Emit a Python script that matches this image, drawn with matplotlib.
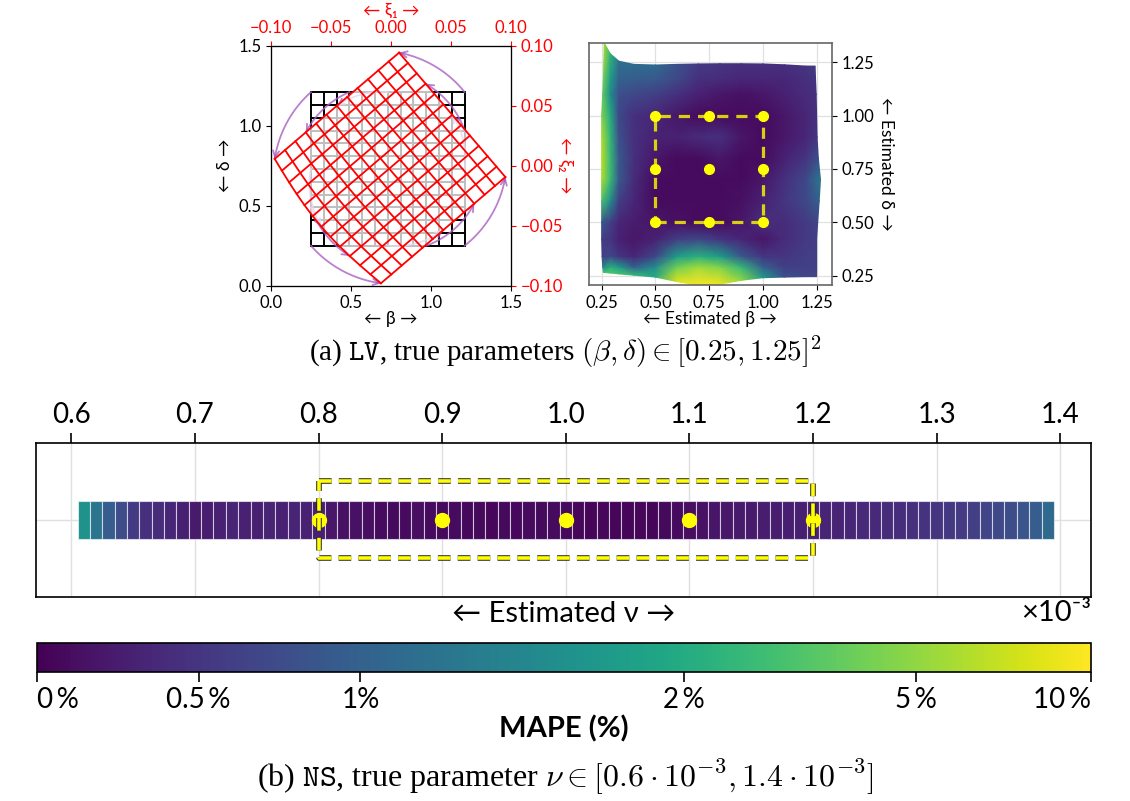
import matplotlib
matplotlib.use("Agg")
import matplotlib.pyplot as plt
import matplotlib.patheffects as pe
from matplotlib.colors import SymLogNorm
import numpy as np

plt.rcParams['font.family'] = ['Lato', 'DejaVu Sans']
plt.rcParams['mathtext.fontset'] = 'cm'

# ---- (a) left: grid of true parameters and its image in the latent space
grid_lo, grid_hi, grid_cells = 0.25, 1.21, 12
grid_center = (0.73, 0.73)
latent_center = (0.744, 0.736)
latent_angle = 40.5        # degrees, counter-clockwise
latent_scale = 1.065
latent_bend = 0.05
arc_offsets = [0, 3, 6]    # cells before each corner (ccw) that get a rotation arc
arc_color = '#a862c2'
ab_ticks = [0.0, 0.5, 1.0, 1.5]
xi_ticks = [-0.10, -0.05, 0.0, 0.05, 0.10]

# ---- (a) right: MAPE over the estimated (beta, delta) plane
est_beta = [0.255, 0.29, 0.33, 0.40, 0.50, 0.60, 0.70, 0.80, 0.90, 1.00, 1.10, 1.20, 1.255]
est_delta = [0.245, 0.29, 0.34, 0.42, 0.50, 0.60, 0.70, 0.80, 0.90, 1.00, 1.10, 1.17, 1.225]
edge_bottom = [0.265, 0.262, 0.258, 0.252, 0.243, 0.222, 0.205, 0.210, 0.228, 0.240, 0.243, 0.245, 0.245]
edge_top = [1.34, 1.29, 1.255, 1.24, 1.237, 1.24, 1.242, 1.243, 1.243, 1.242, 1.238, 1.232, 1.232]
edge_left = [0.258, 0.255, 0.252, 0.25, 0.25, 0.25, 0.25, 0.25, 0.25, 0.25, 0.255, 0.258, 0.262]
edge_right = [1.25, 1.25, 1.25, 1.25, 1.255, 1.262, 1.268, 1.258, 1.252, 1.25, 1.248, 1.245, 1.243]
mape_lv = np.array([
    [3.0, 3.2, 3.0, 2.5, 2.0, 8.0, 10.0, 9.0, 5.0, 1.8, 0.8, 0.7, 0.7],
    [1.5, 2.2, 1.8, 1.0, 1.6, 4.0, 5.5, 4.5, 2.5, 1.0, 0.6, 0.6, 0.6],
    [0.6, 0.7, 0.5, 0.35, 0.7, 1.8, 2.2, 1.8, 0.9, 0.5, 0.5, 0.6, 0.6],
    [0.6, 0.5, 0.3, 0.2, 0.3, 0.6, 0.7, 0.5, 0.35, 0.2, 0.4, 0.55, 0.6],
    [0.9, 0.6, 0.35, 0.25, 0.2, 0.15, 0.1, 0.1, 0.2, 0.45, 0.4, 0.55, 0.65],
    [3.0, 1.6, 0.6, 0.35, 0.1, 0.1, 0.1, 0.1, 0.15, 0.3, 0.5, 0.7, 1.0],
    [6.0, 2.6, 0.9, 0.4, 0.1, 0.1, 0.1, 0.1, 0.1, 0.2, 0.45, 0.7, 1.3],
    [6.5, 2.6, 0.9, 0.45, 0.2, 0.1, 0.1, 0.2, 0.1, 0.1, 0.3, 0.5, 0.8],
    [6.0, 2.4, 0.8, 0.45, 0.3, 0.3, 0.4, 0.45, 0.2, 0.1, 0.2, 0.35, 0.5],
    [4.5, 2.0, 0.7, 0.45, 0.35, 0.2, 0.1, 0.1, 0.1, 0.1, 0.2, 0.35, 0.45],
    [3.5, 1.6, 0.8, 0.7, 0.6, 0.45, 0.3, 0.2, 0.15, 0.2, 0.3, 0.4, 0.45],
    [4.0, 1.8, 1.0, 0.95, 0.9, 0.7, 0.45, 0.4, 0.35, 0.35, 0.35, 0.45, 0.5],
    [6.0, 2.4, 1.2, 1.15, 1.1, 0.8, 0.55, 0.5, 0.45, 0.45, 0.45, 0.5, 0.55],
])
true_beta = [0.5, 0.75, 1.0]
true_delta = [0.5, 0.75, 1.0]
est_ticks = [0.25, 0.5, 0.75, 1.0, 1.25]

# ---- (b) NS: MAPE per estimated viscosity
nu_first, nu_step = 0.61e-3, 0.01e-3
mape_ns = [1.65, 1.25, 0.95, 0.75, 0.55, 0.45, 0.40, 0.35, 0.28, 0.22,
           0.25, 0.30, 0.33, 0.30, 0.28, 0.32, 0.30, 0.32, 0.30, 0.28,
           0.20, 0.15, 0.14, 0.12, 0.10, 0.08, 0.10, 0.12, 0.10, 0.08,
           0.09, 0.07, 0.08, 0.06, 0.08, 0.07, 0.09, 0.08, 0.10, 0.08,
           0.06, 0.05, 0.06, 0.04, 0.05, 0.06, 0.05, 0.08, 0.10, 0.12,
           0.15, 0.18, 0.20, 0.22, 0.22, 0.25, 0.25, 0.27, 0.28, 0.30,
           0.32, 0.33, 0.35, 0.36, 0.38, 0.40, 0.42, 0.45, 0.48, 0.50,
           0.53, 0.56, 0.60, 0.65, 0.70, 0.76, 0.85, 0.95, 1.10]
nu_true = [0.8e-3, 0.9e-3, 1.0e-3, 1.1e-3, 1.2e-3]
nu_ticks = [0.6e-3, 0.7e-3, 0.8e-3, 0.9e-3, 1.0e-3, 1.1e-3, 1.2e-3, 1.3e-3, 1.4e-3]

cbar_ticks = [0, 0.5, 1, 2, 5, 10]
cbar_labels = ['0\u2009%', '0.5\u2009%', '1%', '2\u2009%', '5\u2009%', '10\u2009%']

norm = SymLogNorm(linthresh=2, linscale=1, vmin=0, vmax=10, base=10)
cmap = plt.get_cmap('viridis')


def to_latent(x, y):
    x = np.asarray(x, float)
    y = np.asarray(y, float)
    span = grid_hi - grid_lo
    u = (x - grid_lo) / span
    v = (y - grid_lo) / span
    dx = x - grid_center[0] - latent_bend * (1 - u) ** 3 * np.sin(np.pi * v)
    dy = y - grid_center[1]
    a = np.deg2rad(latent_angle)
    return (latent_center[0] + latent_scale * (dx * np.cos(a) - dy * np.sin(a)),
            latent_center[1] + latent_scale * (dx * np.sin(a) + dy * np.cos(a)))


fig = plt.figure(figsize=(11.3, 8.01), dpi=100)

# ---------------- (a) left
ax1 = fig.add_axes([0.2398, 0.6433, 0.2124, 0.2996])
lines = np.linspace(grid_lo, grid_hi, grid_cells + 1)
for g in lines:
    ax1.plot([g, g], [grid_lo, grid_hi], color='k', lw=1.4, zorder=2)
    ax1.plot([grid_lo, grid_hi], [g, g], color='k', lw=1.4, zorder=2)

s = np.linspace(grid_lo, grid_hi, 80)
for g in lines:
    ax1.plot(*to_latent(np.full_like(s, g), s), color='red', lw=1.3, zorder=5)
    ax1.plot(*to_latent(s, np.full_like(s, g)), color='red', lw=1.3, zorder=5)

bx = np.concatenate([s, np.full_like(s, grid_hi), s[::-1], np.full_like(s, grid_lo)])
by = np.concatenate([np.full_like(s, grid_lo), s, np.full_like(s, grid_hi), s[::-1]])
ax1.fill(*to_latent(bx, by), color='white', alpha=0.75, lw=0, zorder=4)

h = (grid_hi - grid_lo) / grid_cells
cx, cy = latent_center
t = np.linspace(0, 1, 60)
for k in arc_offsets:
    starts = [(grid_lo + k * h, grid_hi), (grid_hi, grid_hi - k * h),
              (grid_hi - k * h, grid_lo), (grid_lo, grid_lo + k * h)]
    for px, py in starts:
        qx, qy = to_latent(px, py)
        a0 = np.arctan2(py - cy, px - cx)
        a1 = np.arctan2(qy - cy, qx - cx)
        da = (a1 - a0 + np.pi) % (2 * np.pi) - np.pi
        r0 = np.hypot(px - cx, py - cy)
        r1 = np.hypot(qx - cx, qy - cy)
        r = r0 + (r1 - r0) * t
        arc_x = cx + r * np.cos(a0 + da * t)
        arc_y = cy + r * np.sin(a0 + da * t)
        ax1.plot(arc_x, arc_y, color=arc_color, lw=1.3, alpha=0.8, zorder=3)
        ax1.annotate('', xy=(arc_x[-1], arc_y[-1]), xytext=(arc_x[-4], arc_y[-4]),
                     arrowprops=dict(arrowstyle='->', color=arc_color, lw=1.3, alpha=0.8,
                                     shrinkA=0, shrinkB=0, mutation_scale=11),
                     zorder=3)

ax1.set_xlim(0, 1.5)
ax1.set_ylim(0, 1.5)
ax1.set_xticks(ab_ticks)
ax1.set_yticks(ab_ticks)
ax1.tick_params(labelsize=12)
ax1.set_xlabel('\u2190 \u03b2 \u2192', fontsize=12.5, labelpad=0)
ax1.set_ylabel('\u2190 \u03b4 \u2192', fontsize=12.5, labelpad=4)

axt = ax1.twiny()
axt.set_xlim(xi_ticks[0], xi_ticks[-1])
axt.set_xticks(xi_ticks)
axt.tick_params(axis='x', colors='red', labelsize=12)
axt.set_xlabel('\u2190 \u03be\u2081 \u2192', color='red', fontsize=12.5, labelpad=3)

axr = ax1.twinx()
axr.set_ylim(xi_ticks[0], xi_ticks[-1])
axr.set_yticks(xi_ticks)
axr.tick_params(axis='y', colors='red', labelsize=12)
axr.set_ylabel('\u2190 \u03be\u2082 \u2192', color='red', fontsize=12.5, rotation=270, labelpad=7)

# ---------------- (a) right
ax2 = fig.add_axes([0.5212, 0.6442, 0.2150, 0.3021])
X, Y = np.meshgrid(est_beta, est_delta)
Y[0, :] = edge_bottom
Y[-1, :] = edge_top
X[:, 0] = edge_left
X[:, -1] = edge_right
ax2.pcolormesh(X, Y, mape_lv, shading='gouraud', cmap=cmap, norm=norm, zorder=1)
sq_b = [true_beta[0], true_beta[-1], true_beta[-1], true_beta[0], true_beta[0]]
sq_d = [true_delta[0], true_delta[0], true_delta[-1], true_delta[-1], true_delta[0]]
ax2.plot(sq_b, sq_d, ls=(0, (3.5, 2.5)), color='yellow', alpha=0.8, lw=2.3, zorder=3)
bb, dd = np.meshgrid(true_beta, true_delta)
ax2.plot(bb.ravel(), dd.ravel(), 'o', color='yellow', ms=7, zorder=4)
ax2.set_xlim(0.191, 1.321)
ax2.set_ylim(0.206, 1.340)
ax2.set_xticks(est_ticks)
ax2.set_yticks(est_ticks)
ax2.yaxis.tick_right()
ax2.yaxis.set_label_position('right')
ax2.tick_params(labelsize=12)
ax2.grid(color='0.88', lw=0.9)
ax2.set_axisbelow(True)
for sp in ax2.spines.values():
    sp.set_color('0.4')
    sp.set_linewidth(1.2)
ax2.set_xlabel('\u2190 Estimated \u03b2 \u2192', fontsize=12.5, labelpad=0)
ax2.set_ylabel('\u2190 Estimated \u03b4 \u2192', fontsize=12.5, rotation=270, labelpad=14)

fig.text(0.5, 0.561, r'(a) $\mathtt{LV}$, true parameters $(\beta, \delta) \in [0.25, 1.25]^2$',
         ha='center', va='center', fontsize=21, family='Liberation Serif')

# ---------------- (b)
ax3 = fig.add_axes([0.0322, 0.2547, 0.9333, 0.1923])
nu = nu_first + nu_step * np.arange(len(mape_ns))
ax3.bar(nu, 0.5, width=nu_step, bottom=-0.25, color=cmap(norm(mape_ns)),
        edgecolor=(1, 1, 1, 0.6), lw=0.8, zorder=2)
ax3.plot(nu_true, np.zeros(len(nu_true)), 'o', color='yellow', ms=10, zorder=3)
rect_x = [nu_true[0], nu_true[-1], nu_true[-1], nu_true[0], nu_true[0]]
rect_y = [0.5, 0.5, -0.5, -0.5, 0.5]
ax3.plot(rect_x, rect_y, ls=(0, (3.5, 2)), color='yellow', lw=2.6, zorder=4,
         path_effects=[pe.Stroke(linewidth=4.0, foreground='0.15'), pe.Normal()])
ax3.set_xlim(0.5717e-3, 1.425e-3)
ax3.set_ylim(-1, 1)
ax3.xaxis.tick_top()
ax3.set_xticks(nu_ticks)
ax3.set_xticklabels([f'{v * 1e3:.1f}' for v in nu_ticks])
ax3.tick_params(axis='x', labelsize=20, length=7, width=1.2)
ax3.set_yticks([0])
ax3.tick_params(axis='y', length=0, labelleft=False)
ax3.grid(color='0.88', lw=1)
ax3.set_axisbelow(True)
for sp in ax3.spines.values():
    sp.set_linewidth(1.2)
ax3.set_xlabel('\u2190 Estimated \u03bd \u2192', fontsize=21, labelpad=3)
ax3.text(1.0, -0.02, '\u00d710\u207b\u00b3', transform=ax3.transAxes, ha='right', va='top',
         fontsize=21)

cax = fig.add_axes([0.0327, 0.161, 0.9327, 0.036])
sm = plt.cm.ScalarMappable(norm=norm, cmap=cmap)
cb = fig.colorbar(sm, cax=cax, orientation='horizontal')
cb.minorticks_off()
cb.set_ticks(cbar_ticks)
cb.set_ticklabels(cbar_labels)
cb.outline.set_linewidth(1.2)
cax.tick_params(labelsize=20, length=7, width=1.2)
labs = cax.get_xticklabels()
labs[0].set_ha('left')
labs[-1].set_ha('right')
cb.set_label('MAPE (%)', fontsize=21, fontweight='bold', labelpad=2)

fig.text(0.5, 0.029, r'(b) $\mathtt{NS}$, true parameter $\nu \in [0.6 \cdot 10^{-3}, 1.4 \cdot 10^{-3}]$',
         ha='center', va='center', fontsize=23, family='Liberation Serif')

fig.savefig('out.png', dpi=100)
